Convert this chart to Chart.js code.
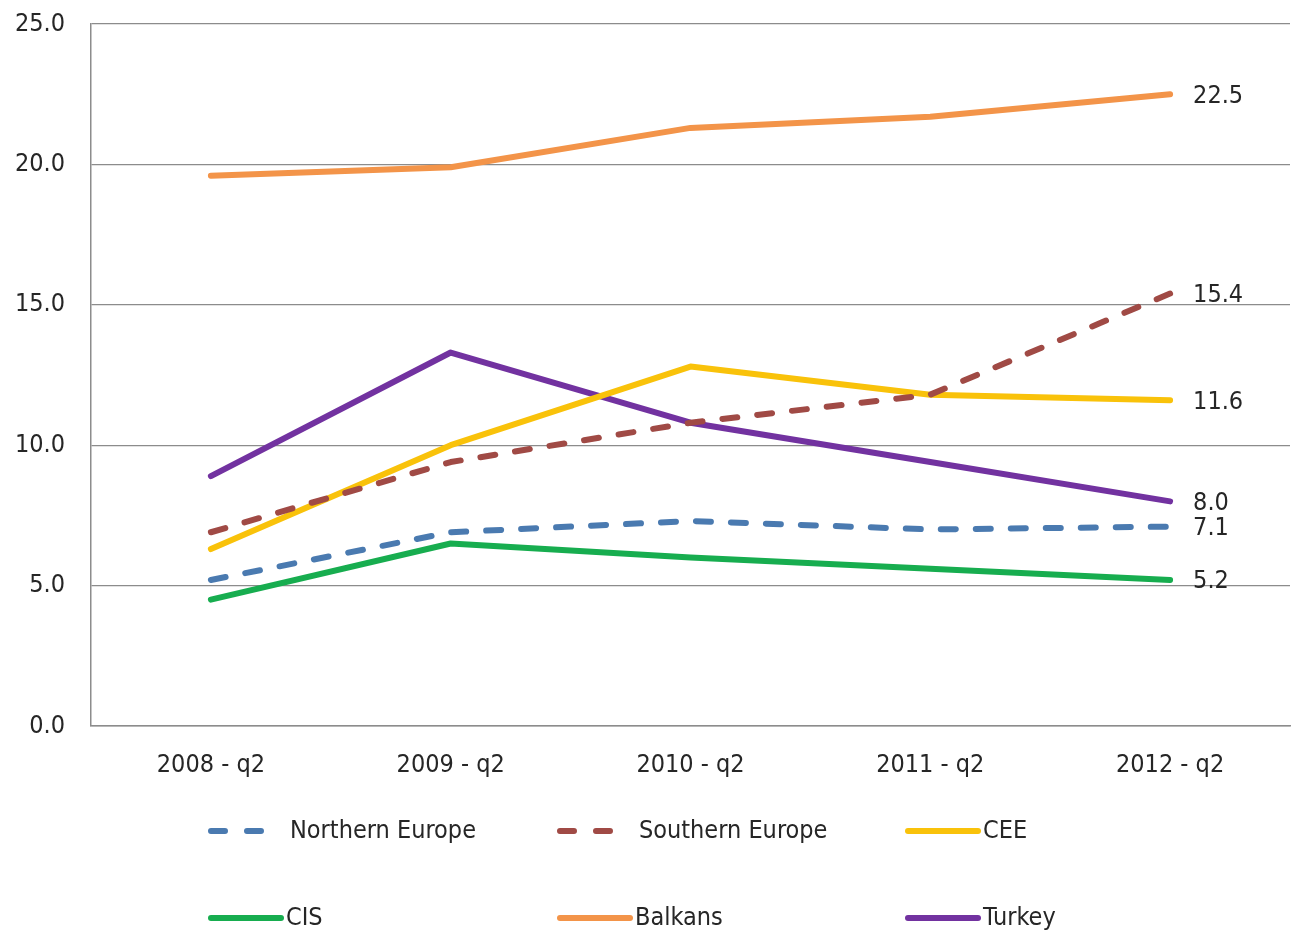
<!DOCTYPE html>
<html>
<head>
<meta charset="utf-8">
<script src="https://cdn.jsdelivr.net/npm/chart.js@4.4.1/dist/chart.umd.min.js"></script>
<style>
  html, body { margin: 0; padding: 0; background: #fff; }
  #wrap { width: 1296px; height: 933px; }
</style>
</head>
<body>
<div id="wrap"><canvas id="chart" width="1296" height="933"></canvas></div>
<script>
// quarters on the x axis
const quarters = ['2008 - q2', '2009 - q2', '2010 - q2', '2011 - q2', '2012 - q2'];

// series values
const northernEurope = [5.2, 6.9, 7.3, 7.0, 7.1];
const southernEurope = [6.9, 9.4, 10.8, 11.8, 15.4];
const cee = [6.3, 10.0, 12.8, 11.8, 11.6];
const cis = [4.5, 6.5, 6.0, 5.6, 5.2];
const balkans = [19.6, 19.9, 21.3, 21.7, 22.5];
const turkey = [8.9, 13.3, 10.8, 9.4, 8.0];

// y axis range
const yMin = 0;
const yMax = 25;
const yStep = 5;

const FONT = "'Liberation Sans Narrow', 'DejaVu Sans Condensed', sans-serif";
const TEXT = '#262626';
const SIZE = 25;

function series(label, data, color, dashed) {
    return {
        label, data,
        borderColor: color,
        backgroundColor: color,
        borderWidth: 6,
        borderDash: dashed ? [15, 20] : [],
        borderCapStyle: 'round',
        borderJoinStyle: 'round',
        pointRadius: 0,
        pointHoverRadius: 0,
        tension: 0,
        fill: false
    };
}

// value of the last point, written to the right of the line
const endLabels = {
    id: 'endLabels',
    afterDatasetsDraw(chart) {
        const ctx = chart.ctx;
        ctx.save();
        ctx.font = `${SIZE}px ${FONT}`;
        ctx.fillStyle = TEXT;
        ctx.textAlign = 'left';
        ctx.textBaseline = 'middle';
        chart.data.datasets.forEach((ds, i) => {
            const meta = chart.getDatasetMeta(i);
            const pt = meta.data[meta.data.length - 1];
            const v = ds.data[ds.data.length - 1];
            ctx.fillText(v.toFixed(1), pt.x + 23, pt.y + 2);
        });
        ctx.restore();
    }
};

// two-row legend below the axis, three items per row
const gridLegend = {
    id: 'gridLegend',
    afterDraw(chart) {
        const ctx = chart.ctx;
        const area = chart.chartArea;
        const cols = [area.left + 117, area.left + 466, area.left + 814];
        const rows = [area.bottom + 105, area.bottom + 192];
        ctx.save();
        ctx.font = `${SIZE}px ${FONT}`;
        ctx.textBaseline = 'middle';
        chart.data.datasets.forEach((ds, i) => {
            const x = cols[i % 3];
            const y = rows[Math.floor(i / 3)];
            const dashed = ds.borderDash.length > 0;
            ctx.strokeStyle = ds.borderColor;
            ctx.lineWidth = 6;
            ctx.lineCap = 'round';
            ctx.setLineDash(dashed ? [14, 22] : []);
            ctx.beginPath();
            ctx.moveTo(x + 3, y);
            ctx.lineTo(dashed ? x + 57 : x + 73, y);
            ctx.stroke();
            ctx.setLineDash([]);
            ctx.fillStyle = TEXT;
            ctx.fillText(ds.label, dashed ? x + 82 : x + 78, y);
        });
        ctx.restore();
    }
};

new Chart(document.getElementById('chart'), {
    type: 'line',
    data: {
        labels: quarters,
        datasets: [
            series('Northern Europe', northernEurope, '#4a7ab0', true),
            series('Southern Europe', southernEurope, '#a04a45', true),
            series('CEE', cee, '#f9c20a', false),
            series('CIS', cis, '#17ad4f', false),
            series('Balkans', balkans, '#f39449', false),
            series('Turkey', turkey, '#7232a0', false)
        ]
    },
    options: {
        responsive: false,
        animation: false,
        events: [],
        layout: { padding: { top: 24, right: 6, bottom: 147, left: 0 } },
        plugins: { legend: { display: false }, tooltip: { enabled: false } },
        scales: {
            x: {
                offset: true,
                grid: { display: false, drawTicks: false },
                border: { display: true, color: '#8c8c8c', width: 1.5 },
                ticks: { color: TEXT, font: { family: FONT, size: SIZE }, padding: 24, maxRotation: 0 },
                afterFit(scale) { scale.height = 60; }
            },
            y: {
                min: yMin,
                max: yMax,
                grid: { color: '#8c8c8c', lineWidth: 1.2, drawTicks: false },
                border: { display: true, color: '#8c8c8c', width: 1.5 },
                ticks: {
                    stepSize: yStep,
                    color: TEXT,
                    font: { family: FONT, size: SIZE },
                    padding: 26,
                    callback: v => v.toFixed(1)
                },
                afterFit(scale) {
                    scale.width = 91;
                    // the tick padding should not push the plot top down
                    scale.paddingTop = 0;
                    scale.paddingBottom = 0;
                }
            }
        }
    },
    plugins: [endLabels, gridLegend]
});
</script>
</body>
</html>
